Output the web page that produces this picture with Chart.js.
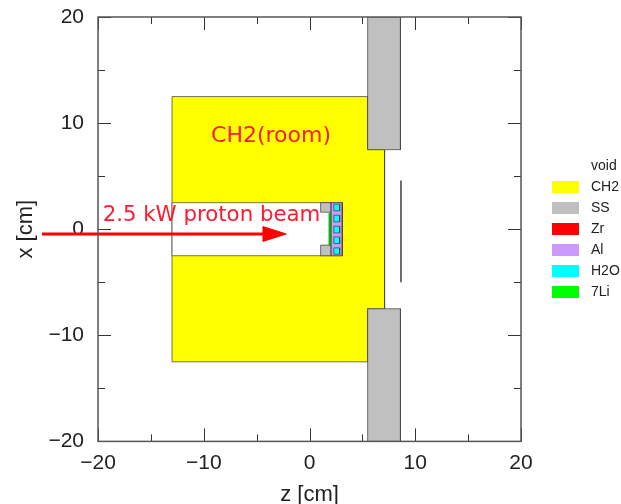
<!DOCTYPE html>
<html>
<head>
<meta charset="utf-8">
<style>
  html, body { margin: 0; background: #fff; }
  canvas { display: block; }
</style>
<script src="https://cdn.jsdelivr.net/npm/chart.js@4/dist/chart.umd.min.js"></script>
</head>
<body>
<canvas id="geometry" width="621" height="504"></canvas>
<script>
// Values, all in cm
const majorTicks = [-20, -10, 0, 10, 20];
const minorTicks = [-15, -5, 5, 15];

const ch2Z = [-13, 5.5, 5.5, 7.1, 7.1, 5.5, 5.5, -13, -13];
const ch2X = [12.5, 12.5, 7.5, 7.5, -7.5, -7.5, -12.5, -12.5, 12.5];
const cavityZ = [-13, 3.1, 3.1, -13, -13];
const cavityX = [2.5, 2.5, -2.5, -2.5, 2.5];
const ssTopZ = [5.5, 8.6, 8.6, 5.5, 5.5];
const ssTopX = [20, 20, 7.5, 7.5, 20];
const ssBottomZ = [5.5, 8.6, 8.6, 5.5, 5.5];
const ssBottomX = [-7.5, -7.5, -20, -20, -7.5];
const ssCornerTopZ = [1.05, 2.05, 2.05, 1.05, 1.05];
const ssCornerTopX = [2.5, 2.5, 1.6, 1.6, 2.5];
const ssCornerBottomZ = [1.05, 2.05, 2.05, 1.05, 1.05];
const ssCornerBottomX = [-1.5, -1.5, -2.5, -2.5, -1.5];
const liZ = [1.85, 2.05, 2.05, 1.85, 1.85];
const liX = [1.5, 1.5, -1.5, -1.5, 1.5];
const alZ = [2.05, 3.1, 3.1, 2.05, 2.05];
const alX = [2.5, 2.5, -2.5, -2.5, 2.5];
const waterZ = [2.3, 2.85];
const waterTop = [2.36, 1.32, 0.28, -0.73, -1.76];
const waterBottom = [1.73, 0.69, -0.35, -1.35, -2.36];
const foilZ = [8.65, 8.65];
const foilX = [4.6, -5];
const beamZ = [-25.3, -4.4];
const beamX = [-0.45, -0.45];
const beamHeadZ = [-4.4, -2.2, -4.4, -4.4];
const beamHeadX = [0.25, -0.45, -1.15, 0.25];

const legendNames = ["void", "CH2", "SS", "Zr", "Al", "H2O", "7Li"];
const legendColors = ["#ffffff", "#ffff00", "#c0c0c0", "#ff0000", "#cc99ff", "#00ffff", "#00ff00"];

const edge = "rgba(70,70,70,0.75)";

function points(zs, xs) {
  return zs.map((z, i) => ({ x: z, y: xs[i] }));
}

function region(zs, xs, color, line = edge) {
  return {
    data: points(zs, xs),
    backgroundColor: color,
    borderColor: line,
    borderWidth: 1,
    borderJoinStyle: "round",
    fill: "shape",
    pointRadius: 0
  };
}

const datasets = [
  region(ch2Z, ch2X, legendColors[1]),
  region(cavityZ, cavityX, legendColors[0]),
  region(ssTopZ, ssTopX, legendColors[2]),
  region(ssBottomZ, ssBottomX, legendColors[2]),
  region(ssCornerTopZ, ssCornerTopX, legendColors[2]),
  region(ssCornerBottomZ, ssCornerBottomX, legendColors[2]),
  region(liZ, liX, "#00c000", "#00b000"),
  region(alZ, alX, legendColors[4])
];

waterTop.forEach((top, i) => {
  const bottom = waterBottom[i];
  datasets.push(region(
    [waterZ[0], waterZ[1], waterZ[1], waterZ[0], waterZ[0]],
    [top, top, bottom, bottom, top],
    legendColors[5]
  ));
});

datasets.push({
  data: points(foilZ, foilX),
  borderColor: "#111",
  borderWidth: 1.2,
  fill: false,
  pointRadius: 0
});
datasets.push({
  data: points(beamZ, beamX),
  borderColor: "#ff0000",
  borderWidth: 3,
  fill: false,
  pointRadius: 0,
  clip: false
});
datasets.push({
  data: points(beamHeadZ, beamHeadX),
  backgroundColor: "#ff0000",
  borderColor: "#ff0000",
  borderWidth: 1,
  fill: "shape",
  pointRadius: 0,
  clip: false
});

// first dataset has to end up at the bottom
datasets.forEach((d, i) => { d.order = -i; });

// gnuplot style ticks pointing into the frame, on all four sides
const inwardTicks = {
  id: "inwardTicks",
  afterDatasetsDraw(chart) {
    const { ctx, chartArea: a, scales } = chart;
    ctx.save();
    ctx.strokeStyle = "#333";
    ctx.lineWidth = 1;
    const mark = (v, len) => {
      const px = Math.round(scales.x.getPixelForValue(v)) + 0.5;
      const py = Math.round(scales.y.getPixelForValue(v)) + 0.5;
      ctx.beginPath();
      ctx.moveTo(px, a.bottom); ctx.lineTo(px, a.bottom - len);
      ctx.moveTo(px, a.top); ctx.lineTo(px, a.top + len);
      ctx.moveTo(a.left, py); ctx.lineTo(a.left + len, py);
      ctx.moveTo(a.right, py); ctx.lineTo(a.right - len, py);
      ctx.stroke();
    };
    majorTicks.forEach(v => mark(v, 13));
    minorTicks.forEach(v => mark(v, 7));
    ctx.strokeStyle = "#555";
    ctx.lineWidth = 1.5;
    ctx.strokeRect(a.left, a.top, a.right - a.left, a.bottom - a.top);
    ctx.restore();
  }
};

const notes = {
  id: "notes",
  afterDraw(chart) {
    const { ctx, scales } = chart;
    ctx.save();
    ctx.fillStyle = "#ff1a2e";
    ctx.textAlign = "center";
    ctx.textBaseline = "middle";
    ctx.font = '22px "DejaVu Sans"';
    ctx.fillText("CH2(room)", scales.x.getPixelForValue(-3.64), scales.y.getPixelForValue(8.8));
    ctx.font = '21.3px "DejaVu Sans"';
    ctx.fillText("2.5 kW proton beam", scales.x.getPixelForValue(-9.27), scales.y.getPixelForValue(1.3));
    ctx.restore();
  }
};

// material key sits in the right margin, gnuplot keeps it apart from the frame
const materialKey = {
  id: "materialKey",
  afterDraw(chart) {
    const { ctx } = chart;
    ctx.save();
    ctx.font = '14px "Liberation Sans"';
    ctx.textBaseline = "middle";
    ctx.fillStyle = "#222";
    legendNames.forEach((name, i) => {
      const y = 166 + i * 21;
      if (i > 0) {
        ctx.fillStyle = legendColors[i];
        ctx.fillRect(552, y - 6, 27, 12);
      }
      ctx.fillStyle = "#222";
      ctx.fillText(name, 591, y);
    });
    ctx.restore();
  }
};

const tickFormat = v => (v < 0 ? "\u2212" + Math.abs(v) : String(v));

function axis(title, tickPadding, titlePadding) {
  return {
    type: "linear",
    min: -20,
    max: 20,
    grid: { display: false, drawTicks: false },
    border: { display: false },
    // layout padding alone decides where the frame goes
    afterFit(scale) {
      scale.paddingTop = 0;
      scale.paddingBottom = 0;
    },
    ticks: {
      stepSize: 10,
      padding: tickPadding,
      color: "#222",
      maxRotation: 0,
      font: { family: '"Liberation Sans"', size: 21 },
      callback: tickFormat
    },
    title: {
      display: true,
      text: title,
      color: "#222",
      padding: titlePadding,
      font: { family: '"Liberation Sans"', size: 22 }
    }
  };
}

new Chart(document.getElementById("geometry"), {
  type: "line",
  data: { datasets },
  plugins: [inwardTicks, notes, materialKey],
  options: {
    responsive: false,
    animation: false,
    layout: { padding: { left: 12, top: 17, right: 100, bottom: -4 } },
    elements: { line: { tension: 0 } },
    scales: {
      x: axis("z [cm]", 9, { top: -3, bottom: 0 }),
      y: axis("x [cm]", 14, { top: 1, bottom: -5 })
    },
    plugins: {
      tooltip: { enabled: false },
      legend: { display: false }
    }
  }
});
</script>
</body>
</html>
